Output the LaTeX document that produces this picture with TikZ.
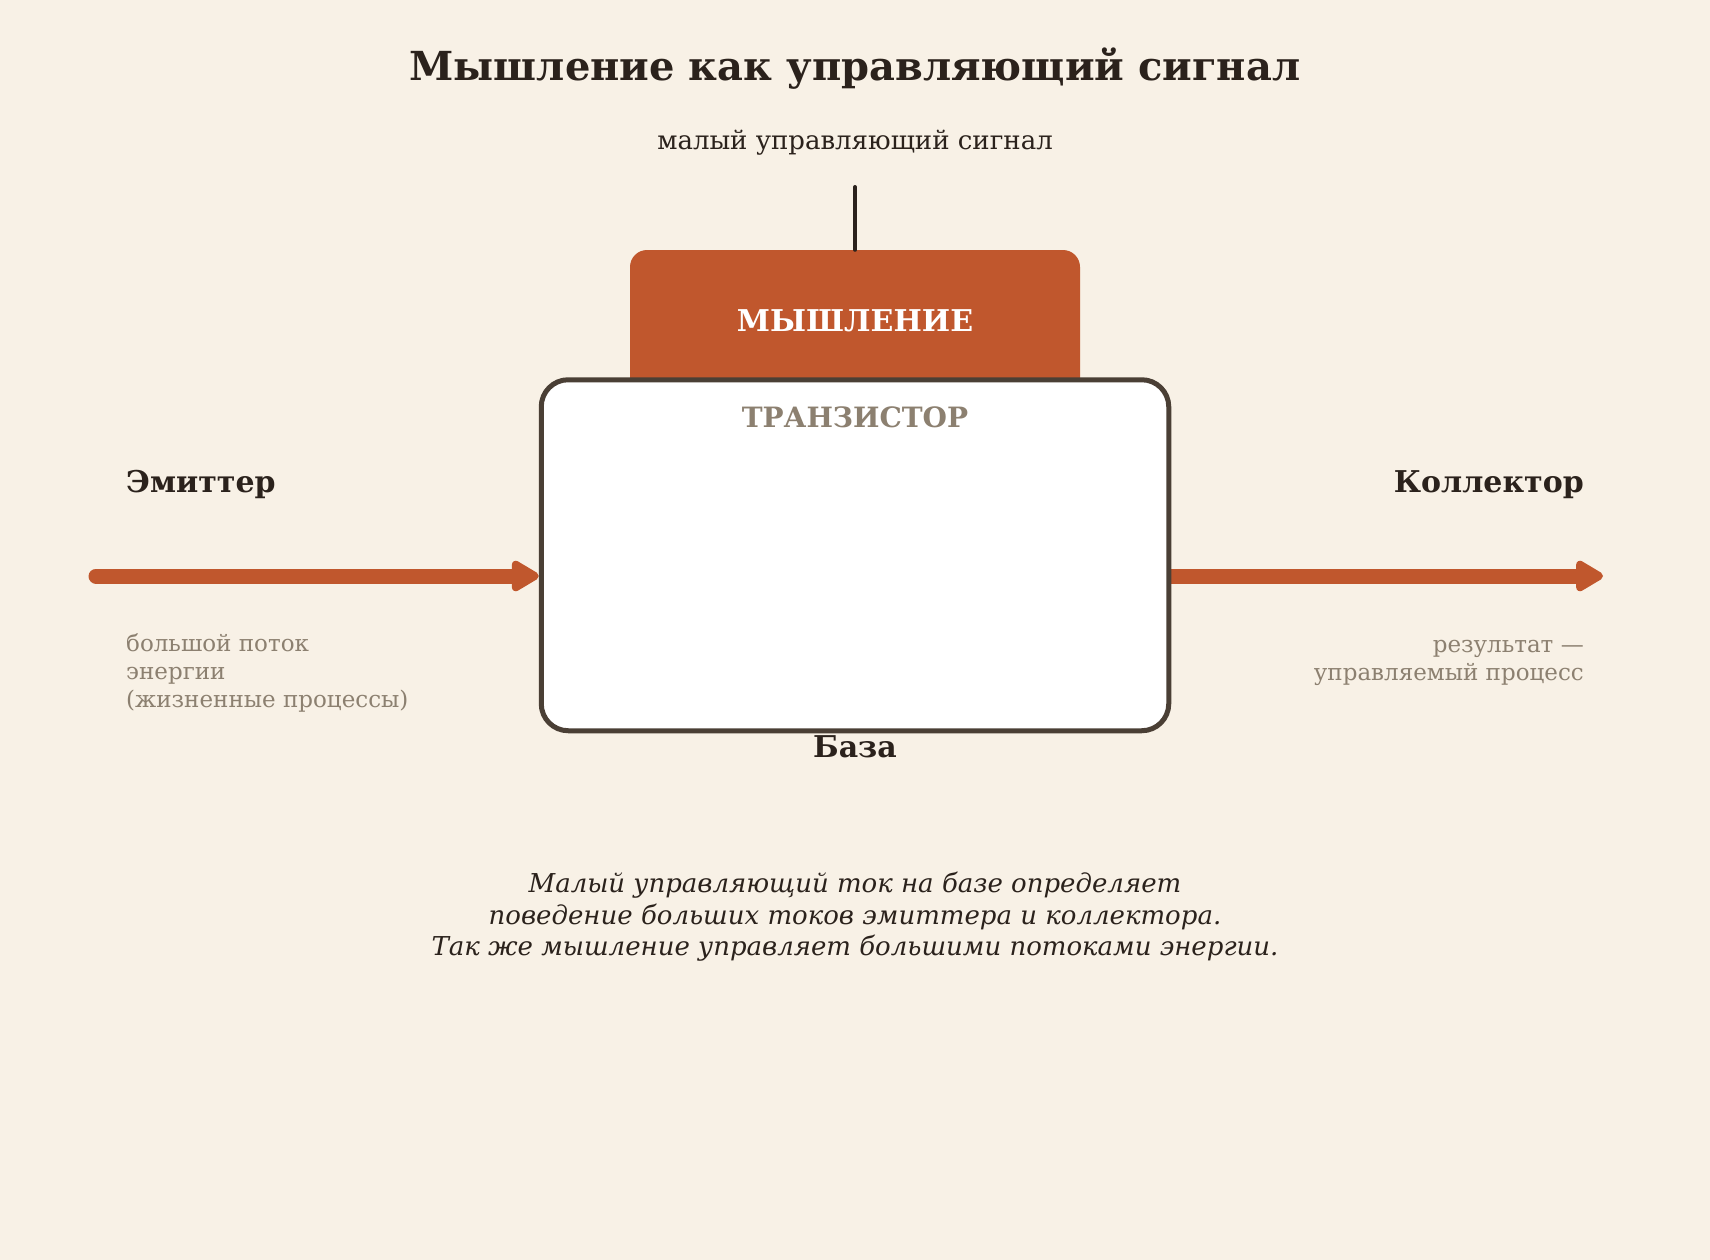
\documentclass[tikz,border=0pt]{standalone}
\usepackage{fontspec}
\setmainfont{DejaVu Serif}
\usetikzlibrary{arrows.meta}
\definecolor{bgc}{HTML}{F8F1E6}
\definecolor{rust}{HTML}{C0572D}
\definecolor{ink}{HTML}{2B221C}
\definecolor{muted}{HTML}{8C8070}
\definecolor{frame}{HTML}{4A3F35}
\pgfdeclarelayer{bglayer}
\pgfdeclarelayer{flowlayer}
\pgfsetlayers{bglayer,flowlayer,main}
\tikzset{
  titletext/.style={font=\bfseries\fontsize{40}{48}\selectfont, text=ink, inner sep=0pt, anchor=base},
  subtext/.style={font=\fontsize{26}{31}\selectfont, text=ink, inner sep=0pt, anchor=base},
  thinkbox/.style={fill=rust, draw=none, rounded corners=17pt, minimum width=450pt, minimum height=170pt, inner sep=0pt},
  transbox/.style={fill=white, draw=frame, line width=5pt, rounded corners=27pt, minimum width=627.5pt, minimum height=351pt, inner sep=0pt},
  boxlabel/.style={font=\bfseries\fontsize{30}{36}\selectfont, inner sep=0pt, anchor=base},
  termlabel/.style={font=\bfseries\fontsize{30}{36}\selectfont, text=ink, inner sep=0pt},
  desc/.style={font=\fontsize{23}{28}\selectfont, text=muted, inner sep=0pt},
  flow/.style={draw=rust, line width=15pt, line cap=round, -{Triangle[round, length=31pt, width=34pt]}},
  signal/.style={draw=ink, line width=4pt, line cap=round},
  note/.style={font=\itshape\fontsize{26}{31.6}\selectfont, text=ink, inner sep=0pt, align=center, anchor=north},
}
\begin{document}
\begin{tikzpicture}[x=1pt,y=-1pt]
\begin{pgfonlayer}{bglayer}
\fill[bgc] (0,0) rectangle (1710,1260);
\end{pgfonlayer}
\useasboundingbox (0,0) rectangle (1710,1260);

\node[titletext] (title) at (855,81) {Мышление как управляющий сигнал};
\node[subtext] (sigtext) at (855,149.5) {малый управляющий сигнал};

\node[thinkbox] (think) at (855,335) {};
\node[transbox] (trans) at (855,555.25) {};
\node[boxlabel, text=white] (thinklbl) at (855,331) {МЫШЛЕНИЕ};
\node[boxlabel, text=muted, font=\bfseries\fontsize{28}{34}\selectfont] (translbl) at (855,427) {ТРАНЗИСТОР};

\coordinate (sigtop) at (855,187);
\draw[signal] (sigtop) -- (think.north);

\node[termlabel, anchor=base west] (emitter) at (126,492) {Эмиттер};
\node[termlabel, anchor=base east] (collector) at (1584,492) {Коллектор};
\node[termlabel, anchor=base] (base) at (855,757) {База};

\coordinate (emstart) at (96,576);
\coordinate (colend) at (1603,576);
\begin{pgfonlayer}{flowlayer}
\draw[flow] (emstart) -- (emstart -| trans.west);
\draw[flow] (colend -| trans.east) -- (colend);
\end{pgfonlayer}

\node[desc, anchor=north west, align=left] (emdesc) at (126,633) {большой поток\\энергии\\(жизненные процессы)};
\node[desc, anchor=north east, align=right] (coldesc) at (1584,640) {результат —\\управляемый процесс};

\node[note] (summary) at (855,872) {Малый управляющий ток на базе определяет\\поведение больших токов эмиттера и коллектора.\\Так же мышление управляет большими потоками энергии.};
\end{tikzpicture}
\end{document}
